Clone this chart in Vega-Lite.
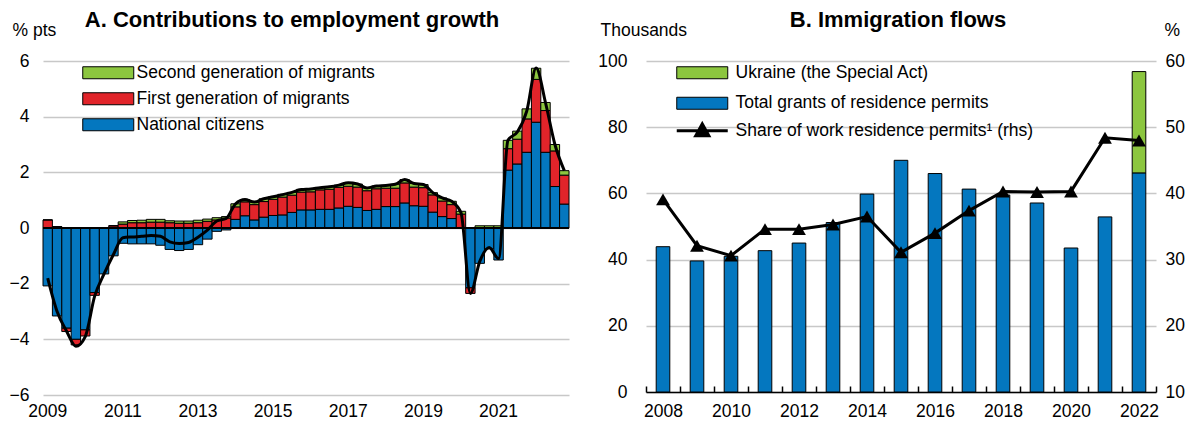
{
  "$schema": "https://vega.github.io/schema/vega-lite/v6.json",
  "background": "white",
  "padding": {"left": 9, "top": 9, "right": 5, "bottom": 5},
  "config": {
    "font": "Liberation Sans",
    "view": {"stroke": null},
    "axis": {"labelFontSize": 17.5, "labelColor": "black", "titleFontSize": 17.5, "titleFontWeight": "normal", "titleColor": "black"},
    "legend": {"labelFontSize": 17.5, "labelColor": "black", "labelLimit": 500},
    "title": {"fontSize": 22, "fontWeight": "bold", "color": "black", "offset": -11}
  },
  "spacing": 26,
  "hconcat": [
    {
      "width": 526,
      "height": 334,
      "title": {"text": "A. Contributions to employment growth", "dx": -14},
      "data": {"values": [
        {"q": "2009-Q1", "citizens": -2.08, "first_gen": 0.29, "second_gen": 0, "total": -1.8},
        {"q": "2009-Q2", "citizens": -3.16, "first_gen": 0.05, "second_gen": 0, "total": -3.0},
        {"q": "2009-Q3", "citizens": -3.6, "first_gen": -0.12, "second_gen": 0, "total": -3.7},
        {"q": "2009-Q4", "citizens": -4.0, "first_gen": -0.2, "second_gen": 0, "total": -4.25},
        {"q": "2010-Q1", "citizens": -3.66, "first_gen": -0.22, "second_gen": 0, "total": -3.9},
        {"q": "2010-Q2", "citizens": -2.32, "first_gen": -0.1, "second_gen": 0, "total": -2.45},
        {"q": "2010-Q3", "citizens": -1.65, "first_gen": 0, "second_gen": 0, "total": -1.65},
        {"q": "2010-Q4", "citizens": -1.0, "first_gen": 0.08, "second_gen": 0, "total": -0.95},
        {"q": "2011-Q1", "citizens": -0.55, "first_gen": 0.14, "second_gen": 0.08, "total": -0.35},
        {"q": "2011-Q2", "citizens": -0.57, "first_gen": 0.19, "second_gen": 0.08, "total": -0.32},
        {"q": "2011-Q3", "citizens": -0.57, "first_gen": 0.19, "second_gen": 0.09, "total": -0.3},
        {"q": "2011-Q4", "citizens": -0.57, "first_gen": 0.21, "second_gen": 0.1, "total": -0.27},
        {"q": "2012-Q1", "citizens": -0.62, "first_gen": 0.21, "second_gen": 0.1, "total": -0.3},
        {"q": "2012-Q2", "citizens": -0.77, "first_gen": 0.19, "second_gen": 0.07, "total": -0.5},
        {"q": "2012-Q3", "citizens": -0.81, "first_gen": 0.17, "second_gen": 0.08, "total": -0.56},
        {"q": "2012-Q4", "citizens": -0.77, "first_gen": 0.17, "second_gen": 0.08, "total": -0.52},
        {"q": "2013-Q1", "citizens": -0.6, "first_gen": 0.19, "second_gen": 0.09, "total": -0.33},
        {"q": "2013-Q2", "citizens": -0.4, "first_gen": 0.24, "second_gen": 0.08, "total": -0.08},
        {"q": "2013-Q3", "citizens": -0.12, "first_gen": 0.29, "second_gen": 0.08, "total": 0.25},
        {"q": "2013-Q4", "citizens": -0.07, "first_gen": 0.36, "second_gen": 0.05, "total": 0.34},
        {"q": "2014-Q1", "citizens": 0.31, "first_gen": 0.45, "second_gen": 0.11, "total": 0.87},
        {"q": "2014-Q2", "citizens": 0.44, "first_gen": 0.5, "second_gen": 0.08, "total": 1.02},
        {"q": "2014-Q3", "citizens": 0.29, "first_gen": 0.55, "second_gen": 0.09, "total": 0.93},
        {"q": "2014-Q4", "citizens": 0.39, "first_gen": 0.56, "second_gen": 0.1, "total": 1.05},
        {"q": "2015-Q1", "citizens": 0.45, "first_gen": 0.58, "second_gen": 0.09, "total": 1.12},
        {"q": "2015-Q2", "citizens": 0.47, "first_gen": 0.64, "second_gen": 0.1, "total": 1.2},
        {"q": "2015-Q3", "citizens": 0.56, "first_gen": 0.62, "second_gen": 0.1, "total": 1.28},
        {"q": "2015-Q4", "citizens": 0.65, "first_gen": 0.64, "second_gen": 0.1, "total": 1.38},
        {"q": "2016-Q1", "citizens": 0.65, "first_gen": 0.65, "second_gen": 0.1, "total": 1.4},
        {"q": "2016-Q2", "citizens": 0.67, "first_gen": 0.7, "second_gen": 0.08, "total": 1.45},
        {"q": "2016-Q3", "citizens": 0.67, "first_gen": 0.72, "second_gen": 0.09, "total": 1.48},
        {"q": "2016-Q4", "citizens": 0.72, "first_gen": 0.74, "second_gen": 0.08, "total": 1.54},
        {"q": "2017-Q1", "citizens": 0.78, "first_gen": 0.72, "second_gen": 0.13, "total": 1.63},
        {"q": "2017-Q2", "citizens": 0.74, "first_gen": 0.73, "second_gen": 0.11, "total": 1.58},
        {"q": "2017-Q3", "citizens": 0.63, "first_gen": 0.71, "second_gen": 0.1, "total": 1.44},
        {"q": "2017-Q4", "citizens": 0.67, "first_gen": 0.74, "second_gen": 0.1, "total": 1.51},
        {"q": "2018-Q1", "citizens": 0.77, "first_gen": 0.66, "second_gen": 0.1, "total": 1.53},
        {"q": "2018-Q2", "citizens": 0.77, "first_gen": 0.66, "second_gen": 0.14, "total": 1.57},
        {"q": "2018-Q3", "citizens": 0.9, "first_gen": 0.72, "second_gen": 0.12, "total": 1.74},
        {"q": "2018-Q4", "citizens": 0.8, "first_gen": 0.67, "second_gen": 0.13, "total": 1.6},
        {"q": "2019-Q1", "citizens": 0.78, "first_gen": 0.67, "second_gen": 0.11, "total": 1.56},
        {"q": "2019-Q2", "citizens": 0.57, "first_gen": 0.62, "second_gen": 0.08, "total": 1.27},
        {"q": "2019-Q3", "citizens": 0.41, "first_gen": 0.56, "second_gen": 0.11, "total": 1.08},
        {"q": "2019-Q4", "citizens": 0.34, "first_gen": 0.5, "second_gen": 0.12, "total": 0.96},
        {"q": "2020-Q1", "citizens": 0.0, "first_gen": 0.5, "second_gen": 0.1, "total": 0.55},
        {"q": "2020-Q2", "citizens": -2.15, "first_gen": -0.2, "second_gen": 0, "total": -2.35},
        {"q": "2020-Q3", "citizens": -1.27, "first_gen": 0, "second_gen": 0.08, "total": -1.2},
        {"q": "2020-Q4", "citizens": -0.75, "first_gen": 0, "second_gen": 0.08, "total": -0.7},
        {"q": "2021-Q1", "citizens": -1.15, "first_gen": 0, "second_gen": 0.08, "total": -1.1},
        {"q": "2021-Q2", "citizens": 2.08, "first_gen": 0.77, "second_gen": 0.3, "total": 3.15},
        {"q": "2021-Q3", "citizens": 2.3, "first_gen": 0.89, "second_gen": 0.29, "total": 3.45},
        {"q": "2021-Q4", "citizens": 2.72, "first_gen": 1.2, "second_gen": 0.36, "total": 4.2},
        {"q": "2022-Q1", "citizens": 3.8, "first_gen": 1.54, "second_gen": 0.4, "total": 5.75},
        {"q": "2022-Q2", "citizens": 2.72, "first_gen": 1.5, "second_gen": 0.29, "total": 4.5},
        {"q": "2022-Q3", "citizens": 1.49, "first_gen": 1.28, "second_gen": 0.23, "total": 3.0},
        {"q": "2022-Q4", "citizens": 0.86, "first_gen": 1.04, "second_gen": 0.16, "total": 2.06}
      ]},
      "layer": [
        {
          "transform": [{"fold": ["citizens", "first_gen", "second_gen"], "as": ["component", "value"]}],
          "mark": {"type": "bar", "stroke": "black", "strokeWidth": 1},
          "encoding": {
            "x": {"field": "q", "type": "ordinal", "sort": null,
              "scale": {"paddingInner": 0, "paddingOuter": 0},
              "axis": {"values": ["2009-Q1", "2011-Q1", "2013-Q1", "2015-Q1", "2017-Q1", "2019-Q1", "2021-Q1"],
                "labelExpr": "slice(datum.value, 0, 4)", "labelAngle": 0, "domain": false, "ticks": false,
                "grid": false, "title": null, "labelPadding": 7}},
            "y": {"field": "value", "type": "quantitative", "stack": "zero",
              "scale": {"domain": [-6, 6], "nice": false},
              "axis": {"values": [-6, -4, -2, 0, 2, 4, 6], "grid": true, "gridColor": "#c8c8c8", "gridWidth": 1.5,
                "domain": false, "ticks": false, "labelPadding": 14,
                "title": "% pts", "titleAngle": 0, "titleAlign": "left", "titleBaseline": "middle", "titleX": -31, "titleY": -31}},
            "color": {"field": "component", "type": "nominal",
              "scale": {"domain": ["second_gen", "first_gen", "citizens"], "range": ["#8CC63F", "#E1242A", "#0477BF"]},
              "legend": {"orient": "none", "legendX": 56.5, "legendY": 3, "title": null,
                "symbolType": "M-4.25,-1H4.25V1H-4.25Z", "symbolSize": 144, "symbolStrokeColor": "black", "symbolStrokeWidth": 1,
                "labelOffset": 19.5, "rowPadding": 7,
                "labelExpr": "datum.value == 'citizens' ? 'National citizens' : datum.value == 'first_gen' ? 'First generation of migrants' : 'Second generation of migrants'"}},
            "order": {"field": "component", "sort": "ascending"}
          }
        },
        {"mark": {"type": "rule", "color": "black", "strokeWidth": 2}, "encoding": {"y": {"datum": 0}}},
        {
          "mark": {"type": "line", "color": "black", "strokeWidth": 3, "interpolate": "monotone"},
          "encoding": {
            "x": {"field": "q", "type": "ordinal", "sort": null},
            "y": {"field": "total", "type": "quantitative"}
          }
        }
      ]
    },
    {
      "width": 510,
      "height": 331,
      "title": {"text": "B. Immigration flows", "dx": -3},
      "data": {"values": [
        {"year": "2008", "permits": 43.9, "ukraine": 0, "share": 39.1},
        {"year": "2009", "permits": 39.6, "ukraine": 0, "share": 32.1},
        {"year": "2010", "permits": 41.0, "ukraine": 0, "share": 30.6},
        {"year": "2011", "permits": 42.7, "ukraine": 0, "share": 34.6},
        {"year": "2012", "permits": 45.0, "ukraine": 0, "share": 34.6},
        {"year": "2013", "permits": 51.2, "ukraine": 0, "share": 35.3},
        {"year": "2014", "permits": 59.8, "ukraine": 0, "share": 36.5},
        {"year": "2015", "permits": 70.0, "ukraine": 0, "share": 31.1},
        {"year": "2016", "permits": 66.0, "ukraine": 0, "share": 34.0},
        {"year": "2017", "permits": 61.3, "ukraine": 0, "share": 37.4},
        {"year": "2018", "permits": 59.5, "ukraine": 0, "share": 40.3},
        {"year": "2019", "permits": 57.1, "ukraine": 0, "share": 40.2},
        {"year": "2020", "permits": 43.5, "ukraine": 0, "share": 40.3},
        {"year": "2021", "permits": 52.9, "ukraine": 0, "share": 48.4},
        {"year": "2022", "permits": 66.2, "ukraine": 30.6, "share": 48.0}
      ]},
      "layer": [
        {
          "transform": [{"fold": ["permits", "ukraine"], "as": ["type", "value"]}, {"filter": "datum.value > 0"}],
          "mark": {"type": "bar", "stroke": "black", "strokeWidth": 1, "width": {"band": 0.4}},
          "encoding": {
            "x": {"field": "year", "type": "ordinal",
              "scale": {"paddingInner": 0, "paddingOuter": 0},
              "axis": {"labelExpr": "toNumber(datum.value) % 2 == 0 ? datum.value : ''", "labelAngle": 0,
                "tickBand": "extent", "ticks": true, "tickSize": -6, "tickColor": "black", "tickWidth": 1.5,
                "domain": true, "domainColor": "black", "domainWidth": 1.5, "grid": false, "title": null, "labelPadding": 16}},
            "y": {"field": "value", "type": "quantitative", "stack": "zero",
              "scale": {"domain": [0, 100], "nice": false},
              "axis": {"values": [0, 20, 40, 60, 80, 100], "grid": true, "gridColor": "#c8c8c8", "gridWidth": 1.5,
                "domain": false, "ticks": false, "labelPadding": 19,
                "title": "Thousands", "titleAngle": 0, "titleAlign": "left", "titleBaseline": "middle", "titleX": -46, "titleY": -31}},
            "color": {"field": "type", "type": "nominal",
              "scale": {"domain": ["ukraine", "permits"], "range": ["#8CC63F", "#0477BF"]},
              "legend": {"orient": "none", "legendX": 47.5, "legendY": 3, "title": null,
                "symbolType": "M-4.25,-1H4.25V1H-4.25Z", "symbolSize": 144, "symbolStrokeColor": "black", "symbolStrokeWidth": 1,
                "labelOffset": 24.5, "rowPadding": 11.5,
                "labelExpr": "datum.value == 'ukraine' ? 'Ukraine (the Special Act)' : 'Total grants of residence permits'"}},
            "order": {"field": "type", "sort": "ascending"}
          }
        },
        {
          "mark": {"type": "line", "strokeWidth": 3, "point": {"shape": "triangle-up", "size": 190, "filled": true}},
          "encoding": {
            "x": {"field": "year", "type": "ordinal"},
            "y": {"field": "share", "type": "quantitative",
              "scale": {"domain": [10, 60], "nice": false},
              "axis": {"orient": "right", "values": [10, 20, 30, 40, 50, 60], "grid": false, "domain": false, "ticks": false,
                "labelPadding": 9, "title": "%", "titleAngle": 0, "titleAlign": "left", "titleBaseline": "middle", "titleX": 8, "titleY": -31}},
            "color": {"datum": "Share of work residence permits¹ (rhs)", "type": "nominal",
              "scale": {"range": ["black"]},
              "legend": {"orient": "none", "legendX": 47.5, "legendY": 61, "title": null,
                "symbolType": "M-4.25,0H4.25M-1.1,0.85L0,-1.15L1.1,0.85Z", "symbolSize": 144, "symbolStrokeWidth": 3,
                "symbolFillColor": "black", "symbolStrokeColor": "black", "labelOffset": 24.5}}
          }
        }
      ],
      "resolve": {"scale": {"y": "independent", "color": "independent"}}
    }
  ]
}
